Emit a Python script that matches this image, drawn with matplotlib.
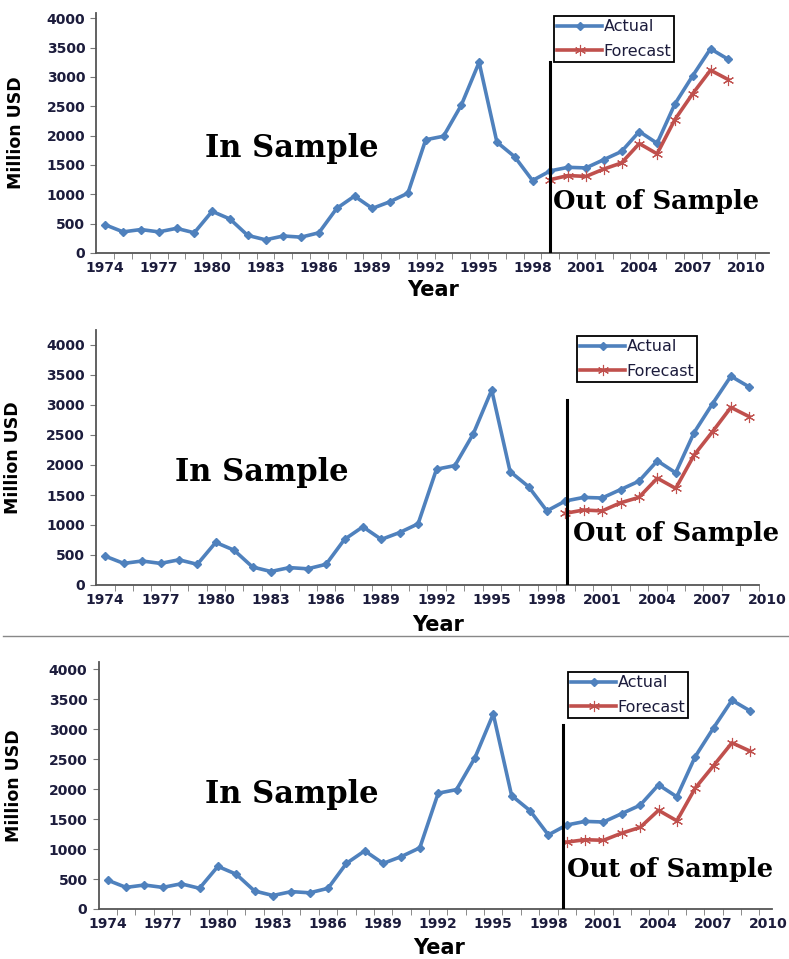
import matplotlib

matplotlib.use("Agg")
import matplotlib.pyplot as plt
from matplotlib.lines import Line2D

# ---- data ----
years = list(range(1974, 2010))
actual = [480, 360, 400, 360, 420, 345, 710, 580, 300, 225, 290, 270,
          345, 760, 970, 760, 875, 1020, 1930, 1990, 2520, 3250, 1890, 1640,
          1235, 1400, 1460, 1450, 1590, 1730, 2070, 1870, 2540, 3020, 3480, 3300]

forecast_years = list(range(1999, 2010))
forecast_1 = [1250, 1320, 1305, 1430, 1535, 1865, 1690, 2275, 2715, 3115, 2955]
forecast_2 = [1195, 1250, 1235, 1370, 1460, 1780, 1610, 2165, 2555, 2960, 2805]
forecast_3 = [1115, 1155, 1145, 1265, 1360, 1645, 1470, 2015, 2390, 2770, 2630]

tick_years = list(range(1974, 2011, 3))
y_ticks = list(range(0, 4001, 500))

W, H = 789, 959
BLUE = "#4F81BD"
RED = "#C0504D"
TXT = "#1c1c3c"

# pixel geometry of each panel: year-1974 x, px per year, xlim right, spine end,
# bottom px, top px, ylim top, split x, split top, label/legend/text placement
panels = [
    dict(fc=forecast_1, x0=105.3, ppy=17.8, xr=2011.3, xend=2011.3, yb=253, yt=13, ymax=4090,
         split=1999.0, split_top=3256, ylab_x=25, xlab_y=290, leg=(554, 16),
         ins=(292, 149), oos=(656, 202)),
    dict(fc=forecast_2, x0=105.3, ppy=18.4, xr=2010.7, xend=2009.5, yb=585, yt=330, ymax=4250,
         split=1999.1, split_top=3083, ylab_x=22, xlab_y=625, leg=(577, 336),
         ins=(262, 472), oos=(676, 533)),
    dict(fc=forecast_3, x0=107.7, ppy=18.36, xr=2010.6, xend=2010.2, yb=909, yt=662, ymax=4117,
         split=1998.8, split_top=3067, ylab_x=23, xlab_y=948, leg=(568, 672),
         ins=(292, 794), oos=(670, 870)),
]

fig = plt.figure(figsize=(W / 100, H / 100), dpi=100)

for p in panels:
    left = p["x0"] - 0.5 * p["ppy"]
    width = (p["xr"] - 1973.5) * p["ppy"]
    rect = [left / W, 1 - p["yb"] / H, width / W, (p["yb"] - p["yt"]) / H]
    ax = fig.add_axes(rect)

    ax.plot(years, actual, color=BLUE, lw=2.6, marker="D", ms=4.5,
            mec=BLUE, mfc=BLUE, label="Actual", zorder=3)
    ax.plot(forecast_years, p["fc"], color=RED, lw=2.6, marker=(6, 2, 0), ms=8,
            mec=RED, mew=0.8, label="Forecast", zorder=3)
    ax.plot([p["split"], p["split"]], [0, p["split_top"]], color="black", lw=2.2, zorder=4)

    ax.set_xlim(1973.5, p["xr"])
    ax.set_ylim(0, p["ymax"])
    for s in ("top", "right"):
        ax.spines[s].set_visible(False)
    for s in ("left", "bottom"):
        ax.spines[s].set_color("#555555")
        ax.spines[s].set_linewidth(1.3)
    ax.spines["bottom"].set_bounds(1973.5, p["xend"])
    ax.spines["left"].set_bounds(0, p["ymax"])

    ax.set_xticks(tick_years)
    ax.set_xticklabels([str(y) for y in tick_years])
    minor = [y - 0.5 for y in range(1975, 2012) if y - 0.5 <= p["xend"] + 0.01]
    ax.set_xticks(minor, minor=True)
    ax.tick_params(axis="x", which="major", length=0, pad=6)
    ax.tick_params(axis="x", which="minor", length=4, color="#777777", direction="out")
    ax.set_yticks(y_ticks)
    ax.tick_params(axis="y", length=4, color="#777777", pad=4)
    for lab in ax.get_xticklabels() + ax.get_yticklabels():
        lab.set_fontfamily("DejaVu Sans")
        lab.set_fontweight("bold")
        lab.set_fontsize(10)
        lab.set_color(TXT)

    ax.set_ylabel("Million USD", fontsize=12.5, fontweight="bold", family="DejaVu Sans")
    ax.yaxis.set_label_coords((p["ylab_x"] - left) / width, 0.5)
    ax.set_xlabel("Year", fontsize=15, fontweight="bold", family="DejaVu Sans")
    ax.xaxis.set_label_coords(0.5, -(p["xlab_y"] - p["yb"]) / (p["yb"] - p["yt"]))
    ax.xaxis.label.set_va("center")

    leg = ax.legend(loc="upper left", bbox_to_anchor=(p["leg"][0] / W, 1 - p["leg"][1] / H),
                    bbox_transform=fig.transFigure, fancybox=False, framealpha=1,
                    edgecolor="black", fontsize=11.5, handlelength=2.8, handletextpad=0.1,
                    labelspacing=0.6, borderpad=0.2, borderaxespad=0)
    leg.get_frame().set_linewidth(1.3)
    for t in leg.get_texts():
        t.set_color(TXT)

    fig.text(p["ins"][0] / W, 1 - p["ins"][1] / H, "In Sample", ha="center", va="center",
             fontsize=22, fontweight="bold", family="DejaVu Serif")
    fig.text(p["oos"][0] / W, 1 - p["oos"][1] / H, "Out of Sample", ha="center", va="center",
             fontsize=18.5, fontweight="bold", family="DejaVu Serif")

# thin grey rule between the second and third chart
fig.add_artist(Line2D([3 / W, 1], [1 - 636 / H, 1 - 636 / H], color="#888888", lw=1.0,
                      transform=fig.transFigure))

fig.savefig("out.png", dpi=100)
